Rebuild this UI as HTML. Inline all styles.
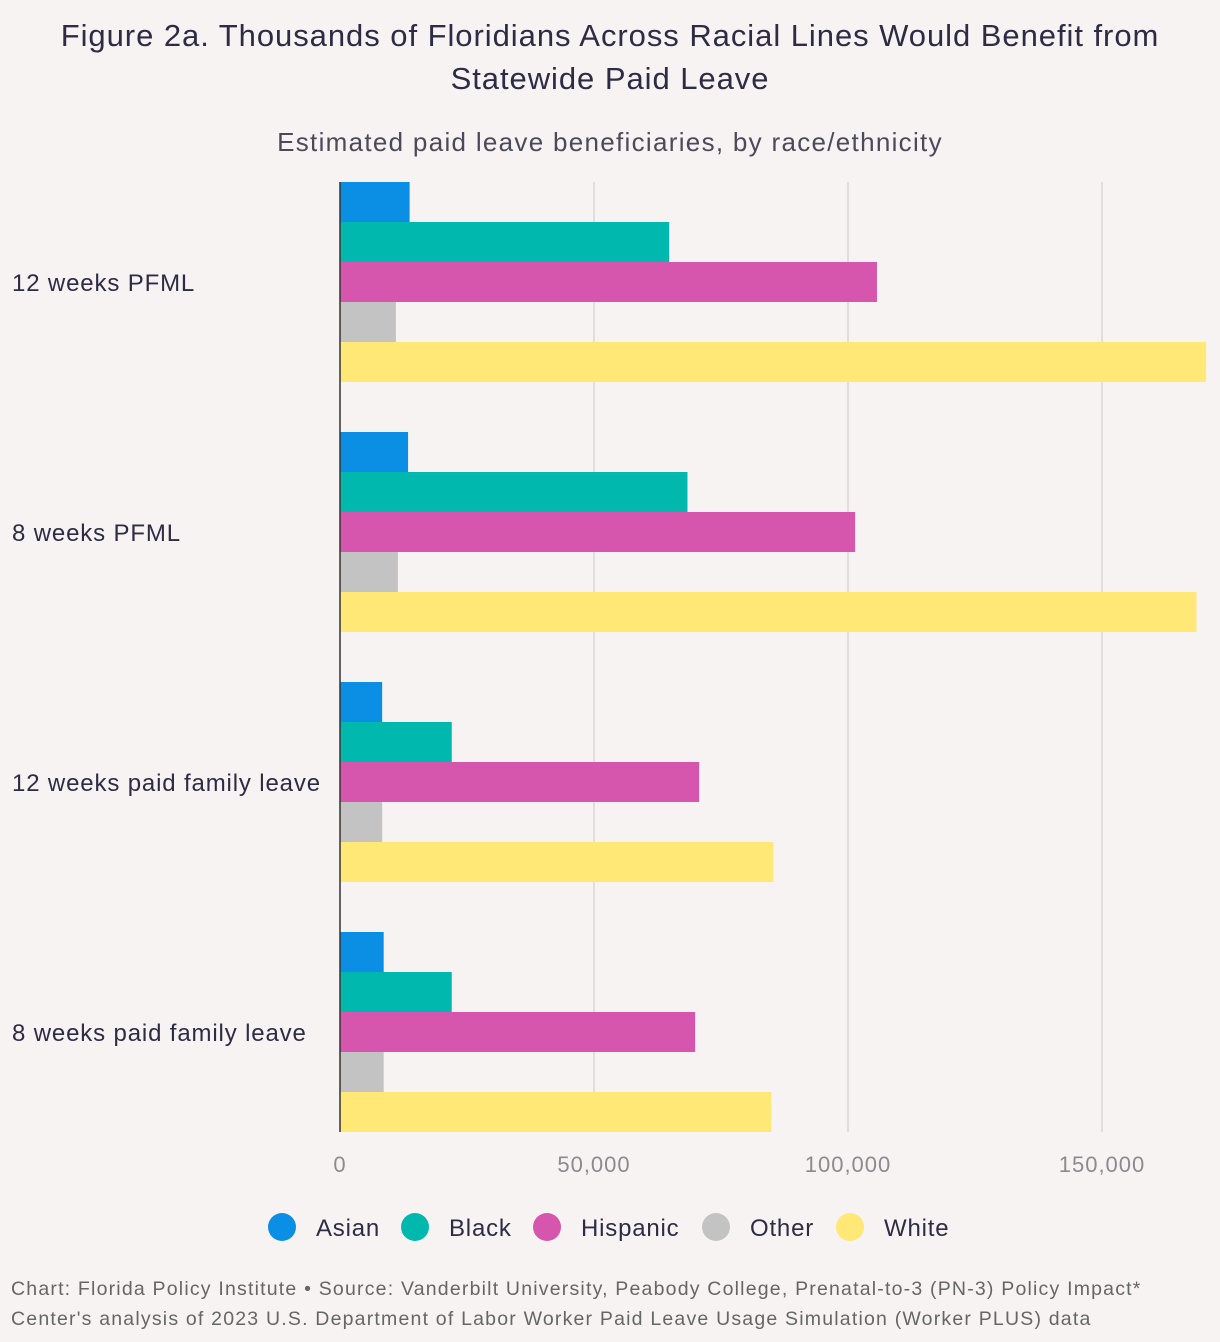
<!DOCTYPE html>
<html><head><meta charset="utf-8"><style>
body{margin:0;background:#f7f3f2;font-family:"Liberation Sans",sans-serif;color:#2c2c44;}
#wrap{position:relative;width:1220px;height:1342px;overflow:hidden;}
.t{position:absolute;}
</style></head><body>
<div id="wrap">
<div class="t" style="left:0;width:1220px;top:14px;text-align:center;font-size:31px;line-height:43px;letter-spacing:0.95px;">Figure 2a. Thousands of Floridians Across Racial Lines Would Benefit from<br>Statewide Paid Leave</div>
<div class="t" style="left:0;width:1220px;top:127px;text-align:center;font-size:26px;letter-spacing:1.3px;color:#4a4a5a;">Estimated paid leave beneficiaries, by race/ethnicity</div>
<svg id="svg" width="1220" height="1342" style="position:absolute;left:0;top:0"></svg>
<div class="t" style="left:11px;top:1274px;font-size:19.5px;letter-spacing:1.2px;line-height:30px;color:#666;white-space:nowrap;">Chart: Florida Policy Institute • Source: Vanderbilt University, Peabody College, Prenatal-to-3 (PN-3) Policy Impact*<br>Center's analysis of 2023 U.S. Department of Labor Worker Paid Leave Usage Simulation (Worker PLUS) data</div>
</div>
<script>
const categories=["12 weeks PFML","8 weeks PFML","12 weeks paid family leave","8 weeks paid family leave"];
const seriesNames=["Asian","Black","Hispanic","Other","White"];
const asian=[13700,13400,8300,8600];
const black=[64800,68400,22000,22000];
const hispanic=[105700,101400,70700,69900];
const other=[11000,11400,8300,8600];
const white=[170500,168600,85300,84900];
const ticks=[0,50000,100000,150000];
const colors=["#0a8fe4","#00b8ad","#d655ad","#c3c3c3","#ffe876"];
const series=[asian,black,hispanic,other,white];
const NS="http://www.w3.org/2000/svg";
const svg=document.getElementById('svg');
const x0=340,pxPer=254/50000,top0=182,groupH=250,barH=40;
const xs=v=>x0+v*pxPer;
function mk(tag,attrs){const e=document.createElementNS(NS,tag);for(const k in attrs)e.setAttribute(k,attrs[k]);svg.appendChild(e);return e;}
ticks.forEach(t=>{
 if(t>0){const g=mk('line',{x1:xs(t),x2:xs(t),y1:182,y2:1132,stroke:'#dcd8d7','stroke-width':1.5});
 
 }
 const l=mk('text',{x:xs(t),y:1172,'text-anchor':'middle','font-size':22,'letter-spacing':1,fill:'#8a8a90','font-family':'Liberation Sans'});
 l.textContent=t.toLocaleString('en-US');
 
 
});
categories.forEach((c,i)=>{
 const gy=top0+i*groupH;
 series.forEach((s,j)=>{
  const r=mk('rect',{x:x0,y:gy+j*barH,width:Math.max(0,xs(s[i])-x0),height:barH,fill:colors[j]});
  
  
 });
 const t=mk('text',{x:12,y:gy+109,'font-size':24,'letter-spacing':0.85,fill:'#2c2c44','font-family':'Liberation Sans'});
 t.textContent=c;
 
 
});
const ax=mk('line',{x1:x0,x2:x0,y1:182,y2:1132,stroke:'#333','stroke-width':1.5});


const lx=[282,415,547,716,850];
seriesNames.forEach((n,j)=>{
 const c=mk('circle',{cx:lx[j],cy:1227,r:14,fill:colors[j]});
 
 
 const t=mk('text',{x:lx[j]+34,y:1236,'font-size':24,'letter-spacing':0.8,fill:'#2c2c44','font-family':'Liberation Sans'});
 t.textContent=n;
 
 
});
</script>
</body></html>
